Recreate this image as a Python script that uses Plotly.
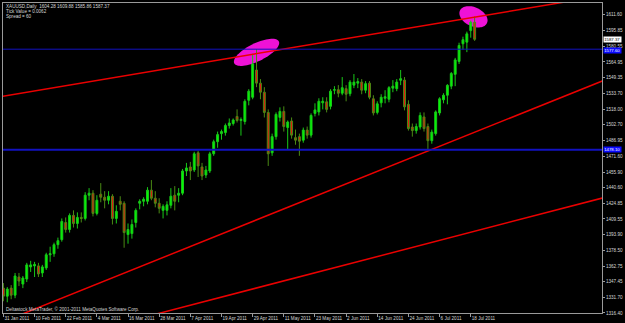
import math
import pandas as pd
import plotly.graph_objects as go

# ---------------- data ----------------
dates = [d.strftime("%Y-%m-%d") for d in pd.bdate_range("2011-01-31", "2011-07-19")]

open_ = [1341, 1333, 1341, 1334, 1352, 1345, 1350, 1362, 1363, 1363,
         1356, 1361, 1374, 1375, 1384, 1389, 1406, 1399, 1413, 1405,
         1411, 1410, 1433, 1435, 1415, 1434, 1431, 1428, 1432, 1410,
         1427, 1425, 1394, 1395, 1406, 1425, 1427, 1427, 1438, 1430,
         1425, 1418, 1418, 1423, 1433, 1433, 1435, 1457, 1461, 1458,
         1475, 1461, 1453, 1457, 1474, 1486, 1494, 1495, 1502, 1504,
         1511, 1507, 1506, 1527, 1530, 1557, 1544, 1535, 1515, 1475,
         1491, 1510, 1516, 1500, 1506.5, 1490, 1491, 1487.5, 1497.5, 1492.5,
         1514, 1515.5, 1524.5, 1525.5, 1521, 1537, 1537.5, 1534, 1538.5, 1533.5,
         1542, 1544, 1545, 1537, 1544, 1528.5, 1515, 1524.5, 1529, 1528,
         1539, 1538.5, 1546.8, 1547, 1523, 1500.5, 1497, 1500.5, 1510.5, 1501,
         1487, 1494, 1514.5, 1527.5, 1532, 1541, 1552.7, 1565.5, 1583, 1584.6,
         1596, 1604.28]
high = [1346, 1342, 1344, 1356, 1356, 1353, 1366, 1368, 1367, 1366,
        1364, 1376, 1382, 1386, 1391, 1410, 1411, 1415, 1418, 1416,
        1416, 1436, 1440, 1438, 1433, 1445, 1437, 1437, 1434, 1423,
        1432, 1427, 1405, 1409, 1420, 1429, 1431, 1441, 1448, 1437,
        1430, 1424, 1427, 1440, 1442, 1440, 1459, 1465, 1466, 1476,
        1477, 1465, 1462, 1476, 1488, 1496, 1498, 1504, 1509, 1509,
        1518, 1510, 1528, 1538, 1573, 1577.6, 1548, 1540, 1518, 1494,
        1515, 1520, 1521, 1507, 1510, 1498, 1494, 1500, 1501, 1514,
        1524, 1529, 1530, 1530, 1538, 1541, 1542, 1550, 1542, 1547,
        1553, 1549, 1548, 1546, 1546, 1532, 1526, 1533, 1537, 1541,
        1547, 1548, 1557, 1550, 1527, 1504, 1504, 1515, 1515, 1504,
        1498, 1517, 1530, 1534, 1543, 1555, 1569, 1584, 1590, 1595,
        1606, 1609.88]
low = [1328, 1327, 1330, 1331, 1343, 1341, 1347, 1357, 1352, 1352,
       1352, 1359, 1367, 1372, 1380, 1387, 1396, 1396, 1401, 1400,
       1406, 1408, 1428, 1412, 1413, 1426, 1420, 1424, 1404, 1405,
       1418, 1381, 1385, 1390, 1401, 1419, 1422, 1424, 1428, 1421,
       1415, 1410, 1413, 1420, 1418, 1426, 1433, 1452, 1448, 1456,
       1451, 1448, 1450, 1455, 1472, 1480, 1488, 1492, 1499, 1502,
       1505, 1492, 1503, 1522, 1528, 1540, 1528, 1510, 1462, 1472,
       1488, 1506, 1496, 1478, 1489, 1483, 1472, 1485, 1489, 1490,
       1511, 1512, 1518, 1515, 1518, 1533, 1530, 1532, 1526, 1531,
       1539, 1539, 1533, 1534, 1528, 1512, 1513, 1520, 1524, 1525,
       1535, 1536, 1542, 1517, 1497, 1491, 1494, 1498, 1496, 1478.1,
       1484, 1492, 1512, 1524, 1523, 1538, 1541, 1563, 1577, 1574.7,
       1589, 1585.86]
close = [1333, 1340, 1334, 1353, 1348, 1351, 1364, 1364, 1364.5, 1355,
         1362, 1374, 1375, 1384, 1388, 1407, 1399, 1413, 1405, 1411,
         1410, 1433, 1435, 1415, 1428, 1431, 1428, 1432, 1410, 1417,
         1424, 1396, 1399, 1404, 1418, 1427, 1429, 1438, 1430, 1425,
         1420, 1422, 1423.5, 1432, 1427, 1435, 1457, 1460, 1457, 1474,
         1462, 1452, 1458, 1474, 1486, 1493, 1496, 1502, 1504.5, 1507.5,
         1507, 1508, 1526, 1536, 1563, 1544, 1535, 1515, 1474, 1491,
         1513, 1516, 1501, 1505.5, 1492.5, 1487.5, 1486.5, 1497.5, 1492.5, 1512,
         1517.5, 1526, 1526, 1518, 1536, 1537.5, 1534, 1539.5, 1533, 1545,
         1545, 1545.5, 1537, 1543.5, 1530, 1514.5, 1523.5, 1530, 1530.5, 1539.5,
         1541, 1545, 1548.4, 1520.5, 1499, 1497, 1501, 1512, 1499, 1487,
         1495.5, 1515.5, 1528.5, 1532, 1541.8, 1553.5, 1567, 1581.3, 1587, 1592.8,
         1604.3, 1587.37]

x_tick_labels = ["31 Jan 2011", "10 Feb 2011", "22 Feb 2011", "4 Mar 2011",
                 "16 Mar 2011", "28 Mar 2011", "7 Apr 2011", "19 Apr 2011",
                 "29 Apr 2011", "11 May 2011", "23 May 2011", "2 Jun 2011",
                 "14 Jun 2011", "24 Jun 2011", "6 Jul 2011", "18 Jul 2011"]
y_ticks = [1316.40, 1331.70, 1347.45, 1362.75, 1378.50, 1393.90, 1409.55,
           1424.85, 1440.60, 1455.90, 1471.60, 1486.95, 1502.70, 1518.00,
           1533.70, 1549.35, 1564.95, 1580.55, 1595.85, 1611.60]

# trend lines (bar index, price)
trend_upper_x, trend_upper_y = [-1, 154], [1530.5, 1630.7]
trend_mid_x, trend_mid_y = [0, 154], [1307.8, 1546.5]
trend_low_x, trend_low_y = [25, 154], [1301.0, 1430.4]
# horizontal levels
levels = [1577.60, 1478.10]
# highlighted highs (bar index, price)
marks = [(65.0, 1574.5), (120.7, 1609.7)]

symbol_text = "XAUUSD,Daily"
tick_value = "Tick Value = 0.0062"
spread = "Spread = 60"
copyright_text = "Deltastock MetaTrader, \u00a9 2001-2011 MetaQuotes Software Corp."

# ---------------- geometry ----------------
W, H = 625, 323
ML, MR, MT, MB = 3, 19, 2, 10
PW, PH = W - ML - MR, H - MT - MB
XR = [-0.1, 153.7]
YR = [1316.35, 1623.35]
px_per_x = PW / (XR[1] - XR[0])
px_per_y = PH / (YR[1] - YR[0])

idx = list(range(len(dates)))
FONT = "Liberation Sans, Arial, sans-serif"
FS = 4.6
TXT = "#d6d6d6"

fig = go.Figure()

# ellipses (drawn below candles)
def ellipse_path(cx, cy, a, b, ang_deg):
    th = math.radians(ang_deg)
    pts = []
    for k in range(73):
        t = 2 * math.pi * k / 72
        dx = a * math.cos(t) * math.cos(th) - b * math.sin(t) * math.sin(th)
        dy = a * math.cos(t) * math.sin(th) + b * math.sin(t) * math.cos(th)
        pts.append((cx + dx / px_per_x, cy + dy / px_per_y))
    return "M " + " L ".join(f"{x:.4f},{y:.4f}" for x, y in pts) + " Z"

ell_specs = [(25, 9, 26), (15, 9.5, -25)]
for (cx, cy), (a, b, ang) in zip(marks, ell_specs):
    fig.add_shape(type="path", path=ellipse_path(cx, cy, a, b, ang),
                  xref="x", yref="y", fillcolor="#ee12d6",
                  line=dict(width=0), layer="below")

fig.add_trace(go.Candlestick(
    x=idx, open=open_, high=high, low=low, close=close,
    increasing=dict(line=dict(color="#18c818", width=1), fillcolor="#00ff00"),
    decreasing=dict(line=dict(color="#4a8a14", width=1), fillcolor="#f01010"),
    whiskerwidth=0, hoverinfo="skip", showlegend=False))

for xs, ys in [(trend_upper_x, trend_upper_y), (trend_mid_x, trend_mid_y),
               (trend_low_x, trend_low_y)]:
    fig.add_trace(go.Scatter(x=xs, y=ys, mode="lines",
                             line=dict(color="#ea0000", width=1.5),
                             hoverinfo="skip", showlegend=False))

for lv, wdt in zip(levels, [1, 2]):
    fig.add_shape(type="line", xref="paper", x0=0, x1=1, yref="y", y0=lv, y1=lv,
                  line=dict(color="#1212c0", width=wdt), layer="above")

# price boxes on the axis
BFS = 4.3
last_close = close[-1]
fig.add_annotation(xref="paper", x=1, xanchor="left", yref="y", y=last_close,
                   text=f"{last_close:.2f}", showarrow=False, bgcolor="#ffffff",
                   font=dict(family=FONT, size=BFS, color="#000000"),
                   borderpad=0.2, xshift=1)
for lv, ys in zip(levels, [-1.5, 0]):
    fig.add_annotation(xref="paper", x=1, xanchor="left", yref="y", y=lv,
                       text=f"{lv:.2f}", showarrow=False, bgcolor="#0a0aff",
                       font=dict(family=FONT, size=BFS, color="#ffffff"),
                       borderpad=0.2, xshift=1, yshift=ys)

# header text
header = (f"{symbol_text}  {open_[-1]:.2f} {high[-1]:.2f} "
          f"{low[-1]:.2f} {close[-1]:.2f}")
for i, t in enumerate([header, tick_value, spread]):
    py = 5.2 + i * 5.2
    fig.add_annotation(xref="paper", yref="paper", x=0, y=1 - (py - MT) / PH,
                       xanchor="left", yanchor="middle", text=t, showarrow=False,
                       xshift=1, font=dict(family=FONT, size=FS, color=TXT))
fig.add_annotation(xref="paper", yref="paper", x=0, y=1 - (309 - MT) / PH,
                   xanchor="left", yanchor="middle", text=copyright_text,
                   showarrow=False, xshift=1,
                   font=dict(family=FONT, size=FS, color=TXT))

fig.update_layout(
    width=W, height=H, margin=dict(l=ML, r=MR, t=MT, b=MB),
    paper_bgcolor="#000000", plot_bgcolor="#000000",
    showlegend=False, font=dict(family=FONT, size=FS, color=TXT),
    xaxis=dict(range=XR, showgrid=False, zeroline=False,
               rangeslider=dict(visible=False),
               tickvals=[i * 8 for i in range(len(x_tick_labels))],
               ticktext=x_tick_labels, tickangle=0, ticks="outside", ticklen=3,
               tickcolor="#9a9a9a", ticklabelposition="outside right",
               tickfont=dict(family=FONT, size=FS, color=TXT),
               showline=True, linecolor="#9a9a9a", linewidth=1, mirror=True),
    yaxis=dict(range=YR, side="right", showgrid=False, zeroline=False,
               tickvals=y_ticks, tickformat=".2f", ticks="outside", ticklen=2,
               tickcolor="#9a9a9a",
               tickfont=dict(family=FONT, size=FS, color=TXT),
               showline=True, linecolor="#9a9a9a", linewidth=1, mirror=True),
)

fig.write_html("out.html")
